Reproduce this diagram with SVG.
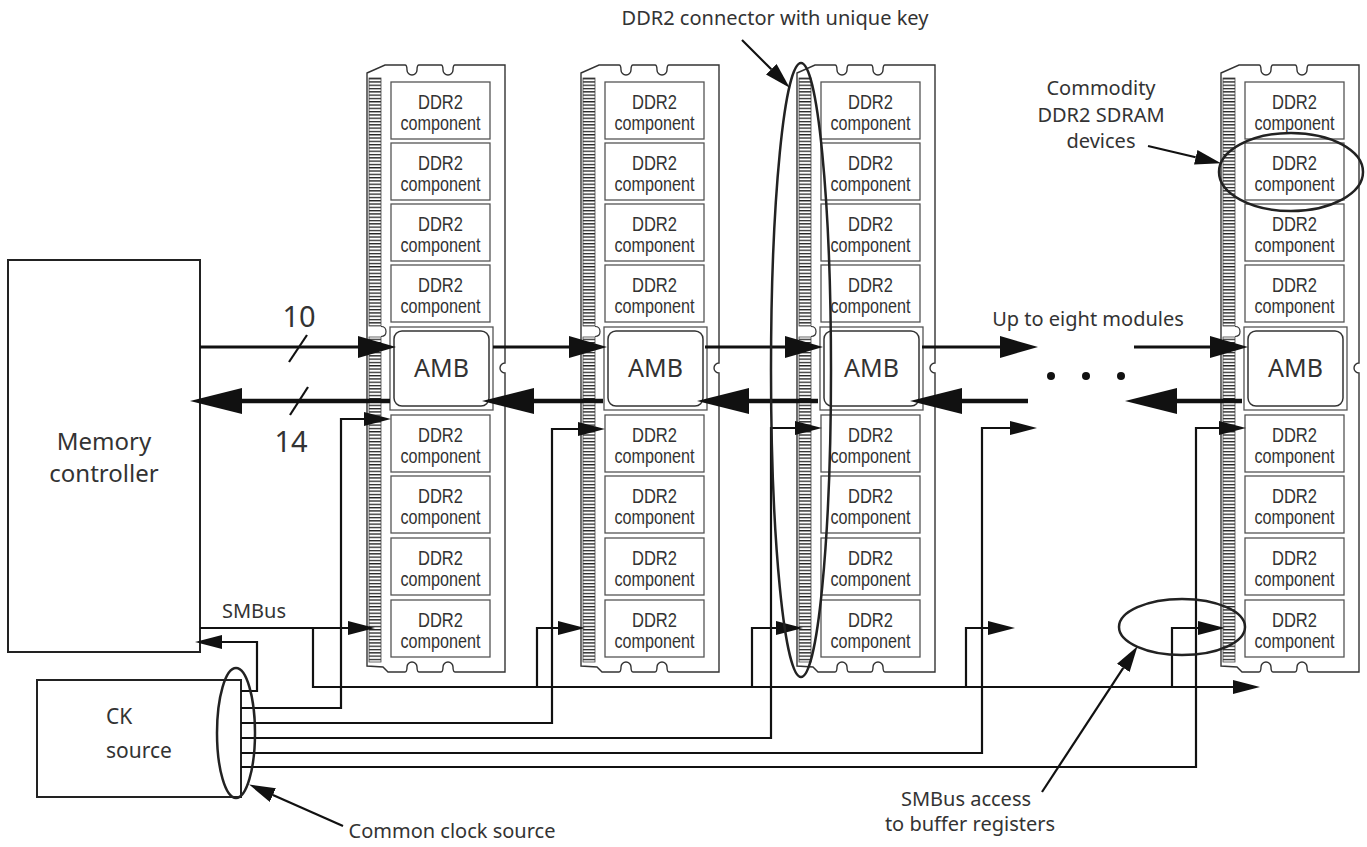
<svg xmlns="http://www.w3.org/2000/svg" width="1367" height="847" viewBox="0 0 1367 847">
<defs>
<style>
.mo{fill:#fff;stroke:#333;stroke-width:1.4}
.nk{fill:none;stroke:#333;stroke-width:1.2}
.bx{fill:none;stroke:#555;stroke-width:1.3}
.ai{fill:none;stroke:#333;stroke-width:1.5}
.pins{fill:url(#pins);stroke:#444;stroke-width:0.8}
.d{font-family:"Liberation Sans",Arial,sans-serif;font-size:21px;fill:#333;text-anchor:middle}
.amb{font-family:"Noto Sans","Open Sans",sans-serif;font-size:25px;fill:#333;text-anchor:middle}
.lbl{font-family:"Noto Sans","Open Sans",sans-serif;font-size:20px;fill:#333}
.mid{text-anchor:middle}
.ln{fill:none;stroke:#111;stroke-width:2.2}
.bf{fill:none;stroke:#111;stroke-width:3.2}
.bb{fill:none;stroke:#111;stroke-width:4.6}
.el{fill:none;stroke:#222;stroke-width:2.5}
.box{fill:#fff;stroke:#222;stroke-width:2}
</style>
<pattern id="pins" patternUnits="userSpaceOnUse" x="0" y="78" width="12" height="3.3"><rect width="12" height="1.3" fill="#222"/></pattern>
<marker id="mF" markerUnits="userSpaceOnUse" markerWidth="38" markerHeight="22" refX="0" refY="11" orient="auto" viewBox="0 0 38 22"><path d="M0,0 L38,11 L0,22 Z" fill="#111"/></marker>
<marker id="mB" markerUnits="userSpaceOnUse" markerWidth="52" markerHeight="26" refX="0" refY="13" orient="auto" viewBox="0 0 52 26"><path d="M0,0 L52,13 L0,26 Z" fill="#111"/></marker>
<marker id="mS" markerUnits="userSpaceOnUse" markerWidth="27" markerHeight="14" refX="0" refY="7" orient="auto" viewBox="0 0 27 14"><path d="M0,0 L27,7 L0,14 Z" fill="#111"/></marker>
<marker id="mA" markerUnits="userSpaceOnUse" markerWidth="26" markerHeight="15" refX="0" refY="7.5" orient="auto" viewBox="0 0 26 15"><path d="M0,0 L26,7.5 L0,15 Z" fill="#111"/></marker>
<g id="frame">
<path class="mo" d="M0,73 L18,65 H38 q2,0 2,5 a5,5 0 0 0 10,0 q0,-5 2,-5 H74 q2,0 2,5 a5,5 0 0 0 10,0 q0,-5 2,-5 H138 V363 a5,5 0 0 0 0,10 V672 H88 q-2,0 -2,-5 a5,5 0 0 0 -10,0 q0,5 -2,5 H52 q-2,0 -2,-5 a5,5 0 0 0 -10,0 q0,5 -2,5 H21 L16,667 L0,666 Z"/>
<rect class="pins" x="2" y="78" width="12" height="248"/>
<rect class="pins" x="2" y="337" width="12" height="325"/>
<path class="nk" d="M14,326.5 q5,0 5,5 q0,5 -5,5"/>
<rect class="bx" x="24" y="82" width="99" height="57"/>
<rect class="bx" x="24" y="143" width="99" height="57"/>
<rect class="bx" x="24" y="204" width="99" height="57"/>
<rect class="bx" x="24" y="265" width="99" height="57"/>
<rect class="bx" x="23" y="327" width="103" height="83"/>
<rect class="ai" x="27" y="331" width="95" height="75" rx="8"/>
<rect class="bx" x="24" y="415" width="99" height="57"/>
<rect class="bx" x="24" y="476" width="99" height="57"/>
<rect class="bx" x="24" y="538" width="99" height="57"/>
<rect class="bx" x="24" y="600" width="99" height="57"/>
</g>
</defs>
<rect width="1367" height="847" fill="#fff"/>

<g id="memory-controller">
<rect class="box" x="8" y="260" width="192" height="392"/>
<text class="lbl mid" x="104" y="450" style="font-size:24px">Memory</text>
<text class="lbl mid" x="104" y="482" style="font-size:24px">controller</text>
</g>

<g id="ck-source">
<rect class="box" x="37" y="680" width="204" height="117"/>
<text class="lbl" x="106" y="724" style="font-size:21px">CK</text>
<text class="lbl" x="106" y="758" style="font-size:21px">source</text>
</g>

<g id="module1" transform="translate(367,0)">
<use href="#frame"/>
<text class="d" x="73.5" y="109" textLength="45" lengthAdjust="spacingAndGlyphs">DDR2</text><text class="d" x="73.5" y="130" textLength="80" lengthAdjust="spacingAndGlyphs">component</text>
<text class="d" x="73.5" y="170" textLength="45" lengthAdjust="spacingAndGlyphs">DDR2</text><text class="d" x="73.5" y="191" textLength="80" lengthAdjust="spacingAndGlyphs">component</text>
<text class="d" x="73.5" y="231" textLength="45" lengthAdjust="spacingAndGlyphs">DDR2</text><text class="d" x="73.5" y="252" textLength="80" lengthAdjust="spacingAndGlyphs">component</text>
<text class="d" x="73.5" y="292" textLength="45" lengthAdjust="spacingAndGlyphs">DDR2</text><text class="d" x="73.5" y="313" textLength="80" lengthAdjust="spacingAndGlyphs">component</text>
<text class="amb" x="74.5" y="377">AMB</text>
<text class="d" x="73.5" y="442" textLength="45" lengthAdjust="spacingAndGlyphs">DDR2</text><text class="d" x="73.5" y="463" textLength="80" lengthAdjust="spacingAndGlyphs">component</text>
<text class="d" x="73.5" y="503" textLength="45" lengthAdjust="spacingAndGlyphs">DDR2</text><text class="d" x="73.5" y="524" textLength="80" lengthAdjust="spacingAndGlyphs">component</text>
<text class="d" x="73.5" y="565" textLength="45" lengthAdjust="spacingAndGlyphs">DDR2</text><text class="d" x="73.5" y="586" textLength="80" lengthAdjust="spacingAndGlyphs">component</text>
<text class="d" x="73.5" y="627" textLength="45" lengthAdjust="spacingAndGlyphs">DDR2</text><text class="d" x="73.5" y="648" textLength="80" lengthAdjust="spacingAndGlyphs">component</text>
</g>

<g id="module2" transform="translate(581,0)">
<use href="#frame"/>
<text class="d" x="73.5" y="109" textLength="45" lengthAdjust="spacingAndGlyphs">DDR2</text><text class="d" x="73.5" y="130" textLength="80" lengthAdjust="spacingAndGlyphs">component</text>
<text class="d" x="73.5" y="170" textLength="45" lengthAdjust="spacingAndGlyphs">DDR2</text><text class="d" x="73.5" y="191" textLength="80" lengthAdjust="spacingAndGlyphs">component</text>
<text class="d" x="73.5" y="231" textLength="45" lengthAdjust="spacingAndGlyphs">DDR2</text><text class="d" x="73.5" y="252" textLength="80" lengthAdjust="spacingAndGlyphs">component</text>
<text class="d" x="73.5" y="292" textLength="45" lengthAdjust="spacingAndGlyphs">DDR2</text><text class="d" x="73.5" y="313" textLength="80" lengthAdjust="spacingAndGlyphs">component</text>
<text class="amb" x="74.5" y="377">AMB</text>
<text class="d" x="73.5" y="442" textLength="45" lengthAdjust="spacingAndGlyphs">DDR2</text><text class="d" x="73.5" y="463" textLength="80" lengthAdjust="spacingAndGlyphs">component</text>
<text class="d" x="73.5" y="503" textLength="45" lengthAdjust="spacingAndGlyphs">DDR2</text><text class="d" x="73.5" y="524" textLength="80" lengthAdjust="spacingAndGlyphs">component</text>
<text class="d" x="73.5" y="565" textLength="45" lengthAdjust="spacingAndGlyphs">DDR2</text><text class="d" x="73.5" y="586" textLength="80" lengthAdjust="spacingAndGlyphs">component</text>
<text class="d" x="73.5" y="627" textLength="45" lengthAdjust="spacingAndGlyphs">DDR2</text><text class="d" x="73.5" y="648" textLength="80" lengthAdjust="spacingAndGlyphs">component</text>
</g>

<g id="module3" transform="translate(797,0)">
<use href="#frame"/>
<text class="d" x="73.5" y="109" textLength="45" lengthAdjust="spacingAndGlyphs">DDR2</text><text class="d" x="73.5" y="130" textLength="80" lengthAdjust="spacingAndGlyphs">component</text>
<text class="d" x="73.5" y="170" textLength="45" lengthAdjust="spacingAndGlyphs">DDR2</text><text class="d" x="73.5" y="191" textLength="80" lengthAdjust="spacingAndGlyphs">component</text>
<text class="d" x="73.5" y="231" textLength="45" lengthAdjust="spacingAndGlyphs">DDR2</text><text class="d" x="73.5" y="252" textLength="80" lengthAdjust="spacingAndGlyphs">component</text>
<text class="d" x="73.5" y="292" textLength="45" lengthAdjust="spacingAndGlyphs">DDR2</text><text class="d" x="73.5" y="313" textLength="80" lengthAdjust="spacingAndGlyphs">component</text>
<text class="amb" x="74.5" y="377">AMB</text>
<text class="d" x="73.5" y="442" textLength="45" lengthAdjust="spacingAndGlyphs">DDR2</text><text class="d" x="73.5" y="463" textLength="80" lengthAdjust="spacingAndGlyphs">component</text>
<text class="d" x="73.5" y="503" textLength="45" lengthAdjust="spacingAndGlyphs">DDR2</text><text class="d" x="73.5" y="524" textLength="80" lengthAdjust="spacingAndGlyphs">component</text>
<text class="d" x="73.5" y="565" textLength="45" lengthAdjust="spacingAndGlyphs">DDR2</text><text class="d" x="73.5" y="586" textLength="80" lengthAdjust="spacingAndGlyphs">component</text>
<text class="d" x="73.5" y="627" textLength="45" lengthAdjust="spacingAndGlyphs">DDR2</text><text class="d" x="73.5" y="648" textLength="80" lengthAdjust="spacingAndGlyphs">component</text>
</g>

<g id="module4" transform="translate(1221,0)">
<use href="#frame"/>
<text class="d" x="73.5" y="109" textLength="45" lengthAdjust="spacingAndGlyphs">DDR2</text><text class="d" x="73.5" y="130" textLength="80" lengthAdjust="spacingAndGlyphs">component</text>
<text class="d" x="73.5" y="170" textLength="45" lengthAdjust="spacingAndGlyphs">DDR2</text><text class="d" x="73.5" y="191" textLength="80" lengthAdjust="spacingAndGlyphs">component</text>
<text class="d" x="73.5" y="231" textLength="45" lengthAdjust="spacingAndGlyphs">DDR2</text><text class="d" x="73.5" y="252" textLength="80" lengthAdjust="spacingAndGlyphs">component</text>
<text class="d" x="73.5" y="292" textLength="45" lengthAdjust="spacingAndGlyphs">DDR2</text><text class="d" x="73.5" y="313" textLength="80" lengthAdjust="spacingAndGlyphs">component</text>
<text class="amb" x="74.5" y="377">AMB</text>
<text class="d" x="73.5" y="442" textLength="45" lengthAdjust="spacingAndGlyphs">DDR2</text><text class="d" x="73.5" y="463" textLength="80" lengthAdjust="spacingAndGlyphs">component</text>
<text class="d" x="73.5" y="503" textLength="45" lengthAdjust="spacingAndGlyphs">DDR2</text><text class="d" x="73.5" y="524" textLength="80" lengthAdjust="spacingAndGlyphs">component</text>
<text class="d" x="73.5" y="565" textLength="45" lengthAdjust="spacingAndGlyphs">DDR2</text><text class="d" x="73.5" y="586" textLength="80" lengthAdjust="spacingAndGlyphs">component</text>
<text class="d" x="73.5" y="627" textLength="45" lengthAdjust="spacingAndGlyphs">DDR2</text><text class="d" x="73.5" y="648" textLength="80" lengthAdjust="spacingAndGlyphs">component</text>
</g>

<g id="connectors">
<path class="bf" d="M200,347 H358" marker-end="url(#mF)"/>
<path class="bf" d="M493,347 H569" marker-end="url(#mF)"/>
<path class="bf" d="M705,347 H785" marker-end="url(#mF)"/>
<path class="bf" d="M922,347 H1000" marker-end="url(#mF)"/>
<path class="bf" d="M1134,347 H1210" marker-end="url(#mF)"/>
<path class="bb" d="M390,401 H242" marker-end="url(#mB)"/>
<path class="bb" d="M603,401 H534" marker-end="url(#mB)"/>
<path class="bb" d="M818,401 H749" marker-end="url(#mB)"/>
<path class="bb" d="M1028,401 H962" marker-end="url(#mB)"/>
<path class="bb" d="M1242,401 H1177" marker-end="url(#mB)"/>
<path class="ln" d="M289,362 L307,335"/>
<path class="ln" d="M290,415 L308,387"/>
<path class="ln" d="M200,628 H348" marker-end="url(#mS)"/>
<path class="ln" d="M313,628 V687 H1233" marker-end="url(#mS)"/>
<path class="ln" d="M537,687 V628 H558" marker-end="url(#mS)"/>
<path class="ln" d="M752,687 V628 H776" marker-end="url(#mS)"/>
<path class="ln" d="M966,687 V628 H988" marker-end="url(#mS)"/>
<path class="ln" d="M1172,687 V628 H1198" marker-end="url(#mS)"/>
<path class="ln" d="M241,691 H257 V642 H222" marker-end="url(#mS)"/>
<path class="ln" d="M241,708 H341 V419 H364" marker-end="url(#mS)"/>
<path class="ln" d="M241,723 H552 V429 H578" marker-end="url(#mS)"/>
<path class="ln" d="M241,738 H771 V428 H795" marker-end="url(#mS)"/>
<path class="ln" d="M241,753 H982 V428 H1010" marker-end="url(#mS)"/>
<path class="ln" d="M241,767 H1196 V428 H1219" marker-end="url(#mS)"/>
<circle cx="1051" cy="376" r="4" fill="#111"/>
<circle cx="1086" cy="376" r="4" fill="#111"/>
<circle cx="1121" cy="376" r="4" fill="#111"/>
</g>

<g id="annotations">
<ellipse class="el" cx="801" cy="370" rx="30" ry="307"/>
<ellipse class="el" cx="1291" cy="172" rx="72" ry="39"/>
<ellipse class="el" cx="236" cy="733" rx="19" ry="65"/>
<ellipse class="el" cx="1182" cy="627" rx="63" ry="28"/>
<path class="ln" d="M742,40 L771.3,69.3" marker-end="url(#mA)"/>
<path class="ln" d="M1148,146 L1195.7,157.3" marker-end="url(#mA)"/>
<path class="ln" d="M343,826 L272.9,795.1" marker-end="url(#mA)"/>
<path class="ln" d="M1042,792 L1123.3,667.9" marker-end="url(#mA)"/>
<text class="lbl mid" x="775" y="25">DDR2 connector with unique key</text>
<text class="lbl mid" x="1088" y="326">Up to eight modules</text>
<text class="lbl mid" x="1101" y="95">Commodity</text>
<text class="lbl mid" x="1101" y="122">DDR2 SDRAM</text>
<text class="lbl mid" x="1101" y="148">devices</text>
<text class="lbl" x="222" y="618">SMBus</text>
<text class="lbl mid" x="299" y="327" style="font-size:29px">10</text>
<text class="lbl mid" x="291" y="452" style="font-size:29px">14</text>
<text class="lbl mid" x="452" y="838">Common clock source</text>
<text class="lbl mid" x="966" y="806">SMBus access</text>
<text class="lbl mid" x="970" y="831">to buffer registers</text>
</g>
</svg>
